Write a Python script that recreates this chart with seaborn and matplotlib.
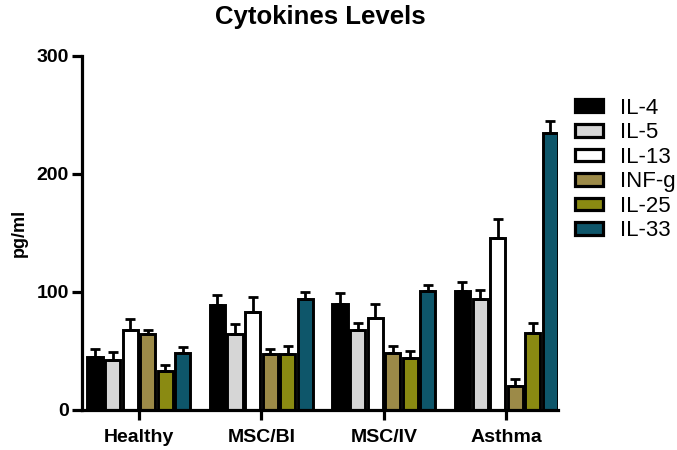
import pandas as pd
import numpy as np
import seaborn as sns
import matplotlib.pyplot as plt

# group means (pg/ml), one list per cytokine
groups = ['Healthy', 'MSC/BI', 'MSC/IV', 'Asthma']
cytokines = ['IL-4', 'IL-5', 'IL-13', 'INF-g', 'IL-25', 'IL-33']
il4 = [45, 89, 90, 101]
il5 = [42, 64, 68, 94]
il13 = [68, 83, 78, 146]
infg = [64, 47, 48, 20]
il25 = [33, 47, 44, 65]
il33 = [48, 94, 101, 235]
# upper error (SEM-ish)
il4_err = [7, 8.5, 9, 7]
il5_err = [7, 9, 6, 8]
il13_err = [9, 13, 11.5, 16]
infg_err = [4, 5, 6, 6]
il25_err = [5, 7, 6, 9]
il33_err = [5, 6, 5, 10]

colors = ['#000000', '#d6d6d6', '#ffffff', '#9c8a48', '#8a8a12', '#0e566a']

means = [il4, il5, il13, infg, il25, il33]
errs = [il4_err, il5_err, il13_err, infg_err, il25_err, il33_err]
df = pd.DataFrame({
    'group': groups * len(cytokines),
    'cytokine': np.repeat(cytokines, len(groups)),
    'value': np.concatenate(means),
})

sns.set_style('ticks', {'axes.edgecolor': 'black', 'xtick.color': 'black',
                        'ytick.color': 'black', 'text.color': 'black',
                        'axes.labelcolor': 'black'})
plt.rcParams['font.family'] = ['Liberation Sans', 'DejaVu Sans']

fig = plt.figure(figsize=(6.77, 4.5), dpi=100)
ax = fig.add_axes([0.121, 0.089, 0.703, 0.787])

sns.barplot(data=df, x='group', y='value', hue='cytokine', order=groups,
            hue_order=cytokines, palette=colors, errorbar=None,
            width=0.86, gap=0.14, edgecolor='black', linewidth=2.1,
            saturation=1, ax=ax)

# one-sided error bars on top of each bar
for cont, e in zip(ax.containers, errs):
    xs = [p.get_x() + p.get_width() / 2 for p in cont.patches]
    ys = [p.get_height() for p in cont.patches]
    ax.errorbar(xs, ys, yerr=[np.zeros(len(e)), e], fmt='none',
                ecolor='black', elinewidth=2, capsize=3.5, capthick=2,
                zorder=1)

ax.set_ylim(0, 300)
ax.set_yticks([0, 100, 200, 300])
ax.set_xlim(-0.465, 3.42)
sns.despine(ax=ax)
for s in ['left', 'bottom']:
    ax.spines[s].set_linewidth(2.3)
ax.tick_params(axis='y', width=2.3, length=7.5, direction='out', pad=2)
ax.tick_params(axis='x', width=2.3, length=7, direction='out', pad=7)
ax.set_xlabel('')
ax.set_ylabel('pg/ml', fontsize=13, fontweight='bold', labelpad=6)
for lab in ax.get_xticklabels() + ax.get_yticklabels():
    lab.set_fontweight('bold')
    lab.set_fontsize(14)
ax.set_title('Cytokines Levels', fontsize=18.5, fontweight='bold', pad=23)

leg = ax.legend(loc='upper left', bbox_to_anchor=(0.849, 0.783),
                bbox_transform=fig.transFigure, frameon=False, fontsize=16,
                handlelength=1.27, handleheight=0.5, handletextpad=0.75,
                labelspacing=0.16, borderpad=0, borderaxespad=0)
for h in leg.legend_handles:
    h.set_edgecolor('black')
    h.set_linewidth(2.3)

fig.savefig('out.png', dpi=100)
